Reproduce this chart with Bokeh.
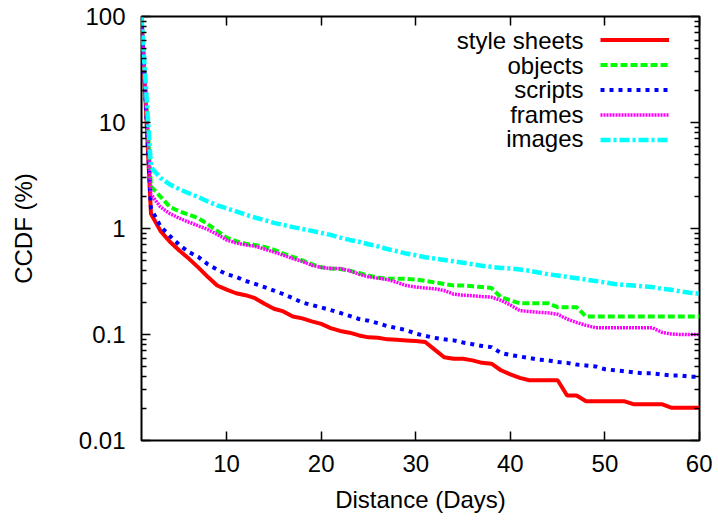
from bokeh.plotting import figure
from bokeh.models import (Range1d, FixedTicker, LinearAxis, LogAxis,
                          CustomJSTickFormatter, Legend, LegendItem, Label)
from bokeh.embed import file_html
from bokeh.resources import INLINE

# ---------------- data ----------------
days = list(range(1, 61))

style_sheets = [100, 1.38, 0.95, 0.75, 0.62, 0.52, 0.43, 0.35, 0.29, 0.265,
                0.245, 0.235, 0.22, 0.195, 0.175, 0.165, 0.148, 0.142, 0.133, 0.126,
                0.115, 0.108, 0.104, 0.098, 0.094, 0.093, 0.09, 0.089, 0.088, 0.087,
                0.085, 0.072, 0.061, 0.059, 0.059, 0.057, 0.054, 0.053, 0.046, 0.042,
                0.039, 0.037, 0.037, 0.037, 0.037, 0.0266, 0.0266, 0.0235, 0.0235, 0.0235,
                0.0235, 0.0235, 0.022, 0.022, 0.022, 0.022, 0.0204, 0.0204, 0.0204, 0.0204]

objects = [100, 2.5, 2.0, 1.6, 1.45, 1.35, 1.25, 1.1, 0.95, 0.82,
           0.76, 0.72, 0.7, 0.67, 0.63, 0.58, 0.54, 0.5, 0.46, 0.43,
           0.42, 0.415, 0.4, 0.38, 0.36, 0.345, 0.335, 0.335, 0.335, 0.33,
           0.32, 0.31, 0.3, 0.29, 0.29, 0.285, 0.28, 0.275, 0.225, 0.21,
           0.197, 0.197, 0.197, 0.197, 0.181, 0.181, 0.181, 0.148, 0.148, 0.148,
           0.148, 0.148, 0.148, 0.148, 0.148, 0.148, 0.148, 0.148, 0.148, 0.148]

scripts = [100, 1.55, 1.05, 0.85, 0.7, 0.6, 0.54, 0.46, 0.41, 0.37,
           0.35, 0.32, 0.3, 0.28, 0.26, 0.24, 0.22, 0.2, 0.19, 0.18,
           0.17, 0.16, 0.15, 0.14, 0.135, 0.128, 0.12, 0.115, 0.11, 0.102,
           0.097, 0.093, 0.09, 0.088, 0.084, 0.081, 0.078, 0.076, 0.067, 0.064,
           0.062, 0.06, 0.058, 0.057, 0.055, 0.054, 0.052, 0.051, 0.05, 0.047,
           0.046, 0.045, 0.044, 0.043, 0.043, 0.042, 0.041, 0.041, 0.04, 0.0398]

frames = [100, 2.1, 1.6, 1.38, 1.25, 1.15, 1.06, 0.98, 0.88, 0.78,
          0.73, 0.7, 0.68, 0.64, 0.6, 0.56, 0.52, 0.49, 0.45, 0.43,
          0.42, 0.42, 0.4, 0.37, 0.35, 0.34, 0.33, 0.31, 0.29, 0.28,
          0.275, 0.27, 0.26, 0.24, 0.235, 0.232, 0.228, 0.225, 0.21, 0.19,
          0.168, 0.165, 0.162, 0.16, 0.155, 0.14, 0.13, 0.122, 0.116, 0.116,
          0.116, 0.116, 0.116, 0.116, 0.116, 0.105, 0.101, 0.1, 0.1, 0.1]

images = [100, 3.8, 3.0, 2.6, 2.35, 2.15, 1.98, 1.8, 1.65, 1.55,
          1.45, 1.35, 1.27, 1.2, 1.13, 1.08, 1.03, 0.99, 0.95, 0.91,
          0.87, 0.82, 0.78, 0.75, 0.71, 0.68, 0.64, 0.61, 0.58, 0.56,
          0.535, 0.52, 0.505, 0.49, 0.475, 0.46, 0.445, 0.435, 0.425, 0.42,
          0.41, 0.4, 0.385, 0.37, 0.36, 0.35, 0.34, 0.33, 0.32, 0.31,
          0.3, 0.295, 0.29, 0.285, 0.28, 0.27, 0.265, 0.255, 0.248, 0.242]

x_ticks = [10, 20, 30, 40, 50, 60]
y_ticks = [0.01, 0.1, 1, 10, 100]
series_names = ["style sheets", "objects", "scripts", "frames", "images"]

# ---------------- figure ----------------
FONT = "Liberation Sans"
FS = "24px"

p = figure(width=712, height=518, y_axis_type="log",
           x_range=Range1d(1, 60), y_range=Range1d(0.01, 100),
           output_backend="svg", toolbar_location=None,
           min_border_left=141, min_border_right=13,
           min_border_top=16, min_border_bottom=78)
p.grid.visible = False
p.outline_line_color = "black"
p.outline_line_width = 2
p.background_fill_color = "white"
p.border_fill_color = "white"

y_minor = [k * 10.0 ** e for e in range(-2, 2) for k in range(2, 10)]
xt = FixedTicker(ticks=x_ticks, minor_ticks=[])
yt = FixedTicker(ticks=y_ticks, minor_ticks=y_minor)

def style_axis(ax):
    ax.axis_line_color = None
    ax.major_tick_in = 9
    ax.major_tick_out = 0
    ax.minor_tick_in = 5
    ax.minor_tick_out = 0
    ax.major_tick_line_color = "black"
    ax.minor_tick_line_color = "black"
    ax.major_tick_line_width = 1.5
    ax.minor_tick_line_width = 1.5
    ax.major_label_text_font = FONT
    ax.major_label_text_font_size = FS
    ax.major_label_text_color = "black"
    ax.axis_label_text_font = FONT
    ax.axis_label_text_font_size = FS
    ax.axis_label_text_font_style = "normal"
    ax.axis_label_text_color = "black"

xa = p.xaxis[0]
xa.ticker = xt
style_axis(xa)
xa.minor_tick_in = 0
xa.major_label_standoff = 14
xa.axis_label = "Distance (Days)"
xa.axis_label_standoff = 11

ya = p.yaxis[0]
ya.ticker = yt
style_axis(ya)
ya.formatter = CustomJSTickFormatter(code="return tick >= 1 ? tick.toFixed(0) : String(tick);")
ya.major_label_standoff = 16
ya.axis_label = "CCDF (%)"
ya.axis_label_standoff = 39

blank = CustomJSTickFormatter(code="return '';")
top = LinearAxis(ticker=xt, formatter=blank)
style_axis(top)
top.minor_tick_in = 0
top.major_label_text_font_size = "0px"
top.major_label_standoff = 0
p.add_layout(top, "above")

right = LogAxis(ticker=yt, formatter=blank)
style_axis(right)
right.major_label_text_font_size = "0px"
right.major_label_standoff = 0
p.add_layout(right, "right")

# ---------------- lines ----------------
r1 = p.line(days, style_sheets, line_color="#ff0000", line_width=4)
r2 = p.line(days, objects, line_color="#00ff00", line_width=4, line_dash="7 3")
r3 = p.line(days, scripts, line_color="#0000ff", line_width=4, line_dash="4 5")
r4 = p.line(days, frames, line_color="#ff00ff", line_width=3.5, line_dash="2 1")
r5 = p.line(days, images, line_color="#00ffff", line_width=4.5, line_dash="10 3 3 3")
rends = [r1, r2, r3, r4, r5]

# ---------------- key (gnuplot style: text right-aligned, sample to its right) ----------------
leg_glyph = Legend(items=[LegendItem(label=" ", renderers=[r]) for r in rends],
                   location=(459, 288), glyph_width=69, glyph_height=25,
                   label_height=25, label_width=1, label_standoff=0,
                   label_text_font_size="1px", padding=0, spacing=0, margin=0,
                   border_line_color=None, background_fill_alpha=0)
p.add_layout(leg_glyph)

for i, name in enumerate(series_names):
    p.add_layout(Label(x=442, y=400 - i * 24.6, x_units="screen", y_units="screen",
                       text=name, text_align="right", text_baseline="middle",
                       text_font=FONT, text_font_size=FS, text_color="black"))

open("out.html", "w").write(file_html(p, INLINE))
